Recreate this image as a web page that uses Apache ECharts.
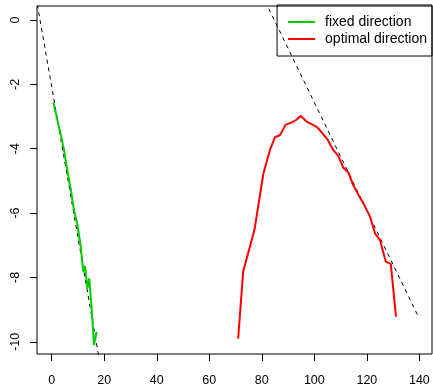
<!DOCTYPE html>
<html>
<head>
<meta charset="utf-8">
<script src="https://cdn.jsdelivr.net/npm/echarts@6/dist/echarts.min.js"></script>
<style>
  html, body { margin: 0; padding: 0; background: #fff; }
  #main { width: 433px; height: 387px; }
</style>
</head>
<body>
<div id="main"></div>
<script>
// fixed direction (green)
var fixedX = [0.6, 2.0, 3.2, 4.5, 5.7, 7.3, 8.5, 9.7, 11.0, 12.0, 12.7, 13.6, 14.3, 15.2, 16.1, 17.1];
var fixedY = [-2.56, -3.05, -3.47, -3.95, -4.56, -5.28, -5.91, -6.32, -7.0, -7.82, -7.65, -8.34, -8.03, -8.96, -10.1, -9.69];

// optimal direction (red)
var optX = [71.0, 72.9, 77.2, 80.6, 83.1, 85.0, 86.9, 89.0, 91.4, 93.0, 94.9, 97.1, 100.9, 102.8, 104.9, 107.2, 109.1, 111.0, 112.9, 114.8, 116.7, 118.9, 121.2, 123.1, 125.0, 127.2, 129.1, 131.1];
var optY = [-9.9, -7.82, -6.52, -4.77, -4.04, -3.64, -3.58, -3.26, -3.18, -3.11, -2.98, -3.16, -3.32, -3.49, -3.70, -4.04, -4.22, -4.59, -4.73, -5.13, -5.42, -5.73, -6.11, -6.63, -6.84, -7.51, -7.58, -9.22];

// dashed reference lines (endpoints)
var refX1 = [-6, 20];
var refY1 = [0.73, -11.43];
var refX2 = [80, 139.6];
var refY2 = [0.80, -9.22];

var xTicks = [0, 20, 40, 60, 80, 100, 120, 140];
var yTicks = [-10, -8, -6, -4, -2, 0];

function pairs(xs, ys) {
    return xs.map(function (x, i) { return [x, ys[i]]; });
}

var chart = echarts.init(document.getElementById('main'), null, { renderer: 'canvas' });
var font = 'Liberation Sans, Arial, Helvetica, sans-serif';

var option = {
    animation: false,
    backgroundColor: '#fff',
    grid: {
        left: 37, right: 1, top: 6, bottom: 33,
        show: true, borderColor: '#000', borderWidth: 1, backgroundColor: 'transparent'
    },
    xAxis: {
        type: 'value',
        min: -5.6,
        max: 144.8,
        splitLine: { show: false },
        axisLine: { show: false, onZero: false },
        axisTick: { show: true, length: 7, inside: false, customValues: xTicks, lineStyle: { color: '#000' } },
        axisLabel: {
            customValues: xTicks, margin: 20, color: '#000',
            fontFamily: font, fontSize: 12.5
        }
    },
    yAxis: {
        type: 'value',
        min: -10.38,
        max: 0.435,
        splitLine: { show: false },
        axisLine: { show: false, onZero: false },
        axisTick: { show: true, length: 7, customValues: yTicks, lineStyle: { color: '#000' } },
        axisLabel: {
            customValues: yTicks, rotate: 90, margin: 15, color: '#000',
            fontFamily: font, fontSize: 12.5
        }
    },
    legend: {
        data: [
            { name: 'fixed direction', icon: 'rect' },
            { name: 'optimal direction', icon: 'rect' }
        ],
        orient: 'vertical',
        right: 1,
        top: 5,
        itemWidth: 27,
        itemHeight: 2,
        itemGap: 3,
        padding: [10, 5, 10, 11],
        borderColor: '#000',
        borderWidth: 1,
        selectedMode: false,
        textStyle: { color: '#000', fontFamily: font, fontSize: 14, padding: [0, 0, 0, 5] }
    },
    series: [
        {
            name: 'ref1', type: 'line', data: pairs(refX1, refY1), symbol: 'none', clip: true,
            lineStyle: { color: '#000', width: 1, type: [4, 4] }, silent: true
        },
        {
            name: 'ref2', type: 'line', data: pairs(refX2, refY2), symbol: 'none', clip: true,
            lineStyle: { color: '#000', width: 1, type: [4, 4] }, silent: true
        },
        {
            name: 'fixed direction', type: 'line', data: pairs(fixedX, fixedY), symbol: 'none',
            itemStyle: { color: '#00cd00' }, lineStyle: { color: '#00cd00', width: 2 }
        },
        {
            name: 'optimal direction', type: 'line', data: pairs(optX, optY), symbol: 'none',
            itemStyle: { color: '#ff0000' }, lineStyle: { color: '#ff0000', width: 2 }
        }
    ]
};

chart.setOption(option);
</script>
</body>
</html>
